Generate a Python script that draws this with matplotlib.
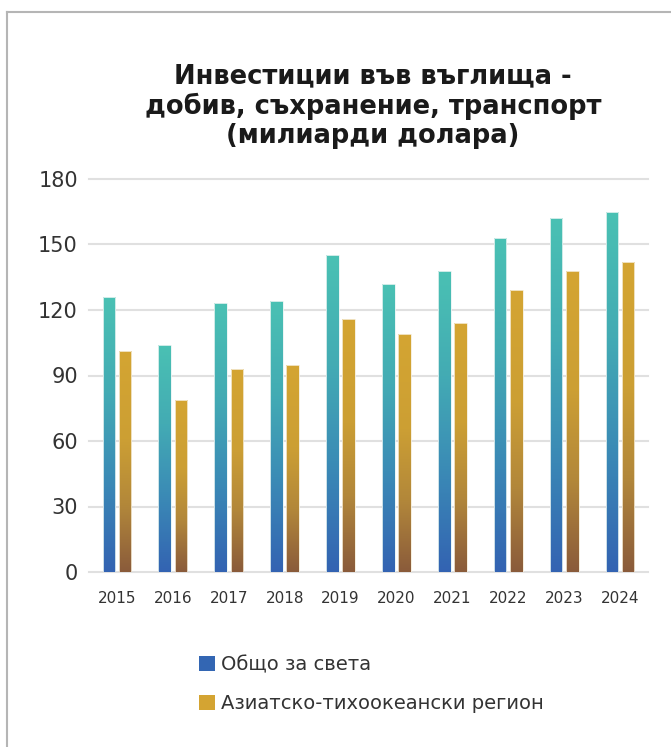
import numpy as np
import matplotlib
matplotlib.use("Agg")
import matplotlib.pyplot as plt
from matplotlib.colors import LinearSegmentedColormap
from matplotlib.patches import Patch
from matplotlib.lines import Line2D

# ---- Data ----
years = ["2015", "2016", "2017", "2018", "2019", "2020", "2021", "2022", "2023", "2024"]
world = [126, 104, 123, 124, 145, 132, 138, 153, 162, 165]
asia_pacific = [101, 79, 93, 95, 116, 109, 114, 129, 138, 142]
series_names = ["Общо за света", "Азиатско-тихоокеански регион"]
y_ticks = [0, 30, 60, 90, 120, 150, 180]
title = "Инвестиции във въглища -\nдобив, съхранение, транспорт\n(милиарди долара)"

# ---- Style ----
W, H = 671, 747
TEXT = "#333333"
GRID = "#e0e0e0"
world_cmap = LinearSegmentedColormap.from_list(
    "world", [(0, "#3363b2"), (0.35, "#3b8cb6"), (0.65, "#43abb4"), (1, "#4ac1b3")])
asia_cmap = LinearSegmentedColormap.from_list(
    "asia", [(0, "#8a5b3b"), (0.3, "#b2873a"), (0.6, "#cc9f34"), (1, "#d4a532")])
legend_colors = ["#3366b3", "#d4a432"]

plt.rcParams["font.family"] = ["DejaVu Sans"]


def gradient_bars(ax, bars, cmap):
    grad = np.linspace(0, 1, 256).reshape(-1, 1)
    for b in bars:
        x0, w, h = b.get_x(), b.get_width(), b.get_height()
        im = ax.imshow(grad, cmap=cmap, origin="lower", aspect="auto",
                       extent=[x0, x0 + w, 0, h], zorder=3)
        im.set_clip_path(b)


fig = plt.figure(figsize=(W / 100, H / 100), dpi=100)
ax = fig.add_axes([89 / W, 1 - 572 / H, (648 - 89) / W, (572 - 179) / H])

x = np.arange(len(years))
bw = 0.225
off = 0.145
b1 = ax.bar(x - off, world, bw, color="none", edgecolor="#e8f4f2", linewidth=0.6, zorder=4)
b2 = ax.bar(x + off, asia_pacific, bw, color="none", edgecolor="#f5ecd8", linewidth=0.6, zorder=4)
gradient_bars(ax, b1, world_cmap)
gradient_bars(ax, b2, asia_cmap)

ax.set_xlim(-0.5, len(years) - 0.5)
ax.set_ylim(0, 180)
ax.set_yticks(y_ticks)
ax.set_xticks(x)
ax.set_xticklabels(years)
ax.tick_params(axis="y", length=0, pad=8, labelsize=15, labelcolor=TEXT)
ax.tick_params(axis="x", length=0, pad=14, labelsize=11, labelcolor=TEXT)
ax.yaxis.grid(True, color=GRID, linewidth=1.5, zorder=0, clip_on=False)
ax.set_axisbelow(True)
for s in ax.spines.values():
    s.set_visible(False)

fig.text(373 / W, 1 - 106 / H, title, ha="center", va="center",
         fontsize=18.5, fontweight="bold", color="#1a1a1a", linespacing=1.15)

handles = [Patch(facecolor=c, edgecolor="none") for c in legend_colors]
fig.legend(handles, series_names, loc="upper left",
           bbox_to_anchor=(199 / W, 1 - 655 / H), frameon=False,
           fontsize=14, labelcolor=TEXT, handlelength=0.8, handleheight=0.8,
           handletextpad=0.35, labelspacing=1.05, borderpad=0, borderaxespad=0)

# frame lines (top and left only)
fig.add_artist(Line2D([7 / W, 1], [1 - 12 / H] * 2, transform=fig.transFigure,
                      color="#b5b5b5", linewidth=1.5))
fig.add_artist(Line2D([7 / W] * 2, [0, 1 - 12 / H], transform=fig.transFigure,
                      color="#b5b5b5", linewidth=1.5))

fig.savefig("out.png", dpi=100)
